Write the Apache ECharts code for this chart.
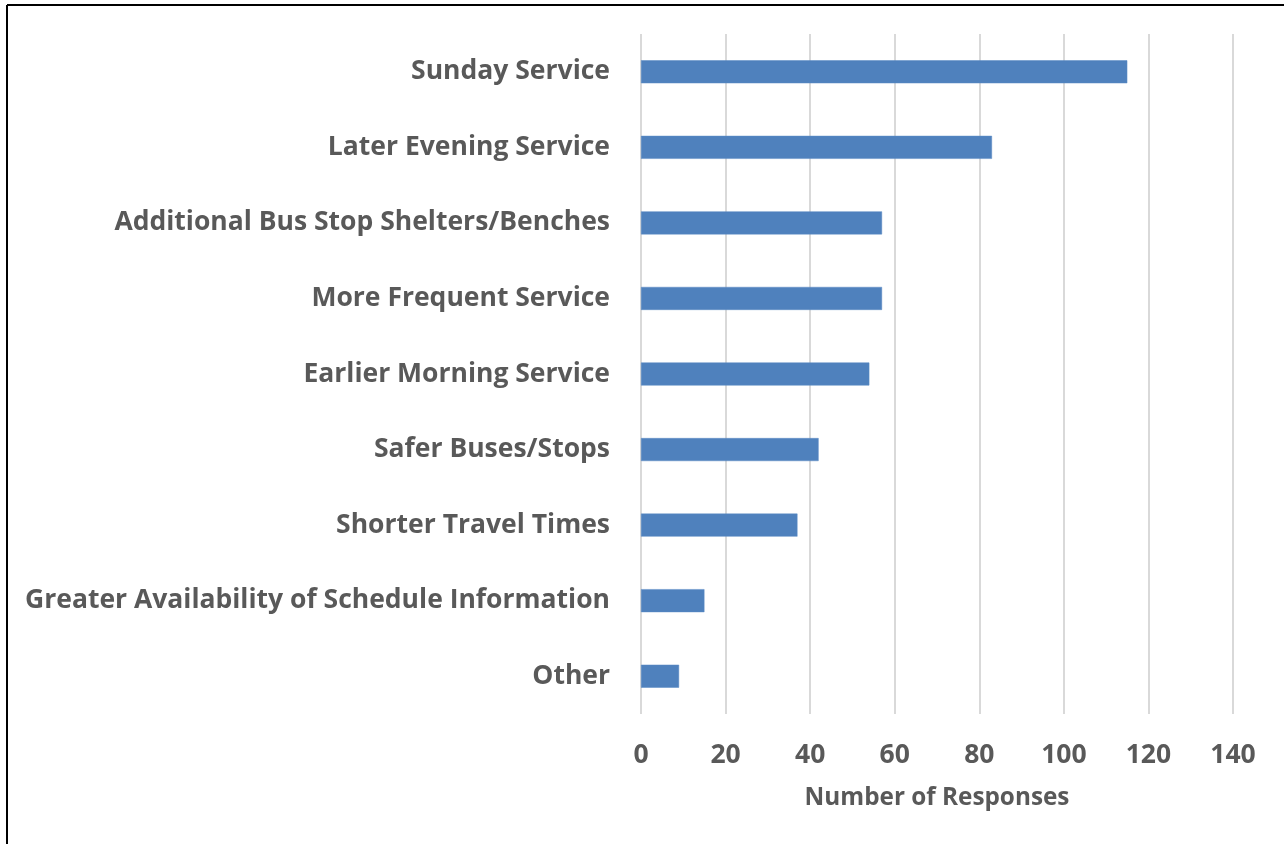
<!DOCTYPE html>
<html>
<head>
<meta charset="utf-8">
<script src="https://cdn.jsdelivr.net/npm/echarts@6/dist/echarts.min.js"></script>
<style>
  html, body { margin: 0; padding: 0; background: #fff; }
  #chart { width: 1284px; height: 844px; }
</style>
</head>
<body>
<div id="chart"></div>
<script>
// Survey: requested service improvements (top to bottom)
const categories = [
  'Sunday Service',
  'Later Evening Service',
  'Additional Bus Stop Shelters/Benches',
  'More Frequent Service',
  'Earlier Morning Service',
  'Safer Buses/Stops',
  'Shorter Travel Times',
  'Greater Availability of Schedule Information',
  'Other'
];
const responses = [115, 83, 57, 57, 54, 42, 37, 15, 9];
const xTicks = [0, 20, 40, 60, 80, 100, 120, 140];

const textColor = '#595959';
const fontFamily = '"Open Sans", "DejaVu Sans", sans-serif';

const chart = echarts.init(document.getElementById('chart'), null, { renderer: 'canvas' });
chart.setOption({
  animation: false,
  backgroundColor: '#ffffff',
  grid: { left: 641, right: 51, top: 34, bottom: 130 },
  graphic: [
    // frame lines along the top and left edge
    { type: 'line', shape: { x1: 7, y1: 5, x2: 1284, y2: 5 }, style: { stroke: '#000', lineWidth: 2 } },
    { type: 'line', shape: { x1: 7, y1: 5, x2: 7, y2: 844 }, style: { stroke: '#000', lineWidth: 2 } }
  ],
  xAxis: {
    type: 'value',
    min: xTicks[0],
    max: xTicks[xTicks.length - 1],
    interval: xTicks[1] - xTicks[0],
    name: 'Number of Responses',
    nameLocation: 'middle',
    nameGap: 72,
    nameTextStyle: { color: textColor, fontFamily, fontWeight: 'bold', fontSize: 24.3 },
    axisLine: { show: false },
    axisTick: { show: false },
    axisLabel: { color: textColor, fontFamily, fontWeight: 'bold', fontSize: 26.5, margin: 28 },
    splitLine: { show: true, lineStyle: { color: '#d9d9d9', width: 2 } }
  },
  yAxis: {
    type: 'category',
    data: categories,
    inverse: true,
    axisLine: { show: false },
    axisTick: { show: false },
    axisLabel: { color: textColor, fontFamily, fontWeight: 'bold', fontSize: 26.5, margin: 31, padding: [4, 0, 0, 0] }
  },
  series: [{
    type: 'bar',
    data: responses,
    barWidth: 23,
    itemStyle: { color: '#4f81bd', borderColor: '#5b8ac4', borderWidth: 0.5 }
  }]
});
</script>
</body>
</html>
